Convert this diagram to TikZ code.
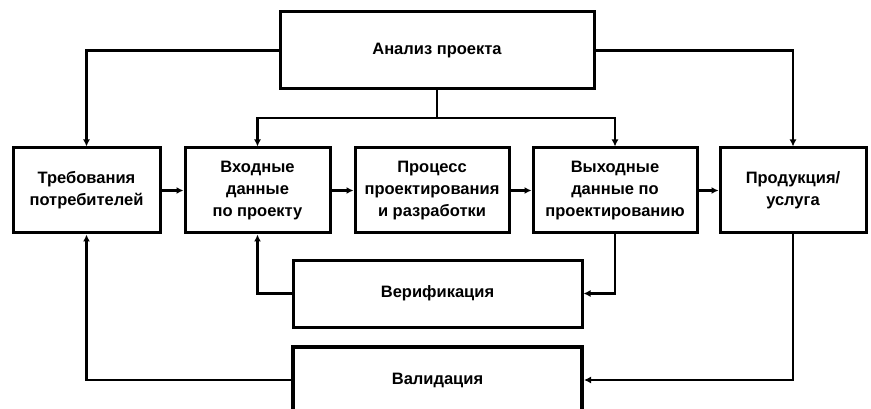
\documentclass[tikz,border=0pt]{standalone}
\usepackage{fontspec}
\setmainfont{Liberation Sans}
\usepackage{tikz}
\usetikzlibrary{arrows.meta}
\newcommand{\boxFont}[0]{\fontsize{16.5}{22}\selectfont\bfseries}

\begin{document}
\begin{tikzpicture}[x=1pt, y=-1pt]
  \tikzset{stage/.style={draw, line width=3pt, align=center, font=\boxFont,
      inner sep=0pt, minimum height=85pt},
    flow/.style={line width=2.4pt, -{Latex[length=7pt,width=7pt]}}}
  \useasboundingbox (0,0) rectangle (871,409);
  \node[stage, minimum width=314pt, minimum height=77pt] (analiz) at (437,50.5) {Анализ проекта};
  \node[stage, minimum width=147pt] (treb) at (86.5,190.5) {Требования\\потребителей};
  \node[stage, minimum width=145pt] (vhod) at (257.5,190.5) {Входные\\данные\\по проекту};
  \node[stage, minimum width=154pt] (proc) at (432,190.5) {Процесс\\проектирования\\и разработки};
  \node[stage, minimum width=164pt] (vyhod) at (615,190.5) {Выходные\\данные по\\проектированию};
  \node[stage, minimum width=146pt] (prod) at (793,190.5) {Продукция/\\услуга};
  \node[stage, minimum width=289pt, minimum height=67pt] (verif) at (437.5,293.5) {Верификация};
  \node[stage, line width=4pt, minimum width=289pt, minimum height=66pt] (valid) at (437.5,380) {Валидация};
  \coordinate (razv) at (437,118);
  % from the analysis
  \draw[flow] (analiz.west) -| (treb.north);
  \draw[flow] (analiz.east) -| (prod.north);
  \draw[line width=2.4pt] (analiz.south) -- (razv);
  \draw[flow] (razv) -| (vhod.north);
  \draw[flow] (razv) -| (vyhod.north);
  % main chain
  \draw[flow] (treb) -- (vhod);
  \draw[flow] (vhod) -- (proc);
  \draw[flow] (proc) -- (vyhod);
  \draw[flow] (vyhod) -- (prod);
  % feedback
  \draw[flow] (vyhod.south) |- (verif.east);
  \draw[flow] (verif.west) -| (vhod.south);
  \draw[flow] (prod.south) |- (valid.east);
  \draw[flow] (valid.west) -| (treb.south);
\end{tikzpicture}
\end{document}
